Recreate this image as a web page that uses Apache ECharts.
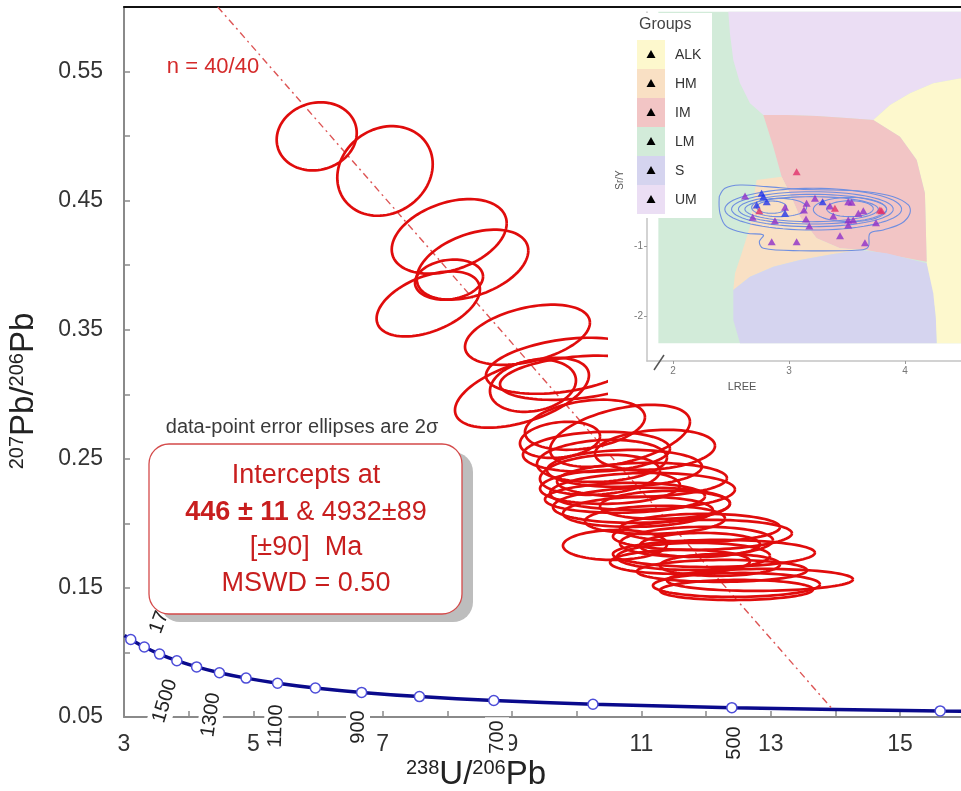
<!DOCTYPE html>
<html>
<head>
<meta charset="utf-8">
<script src="https://cdn.jsdelivr.net/npm/echarts@6/dist/echarts.min.js"></script>
<style>
  html, body { margin: 0; padding: 0; background: #ffffff; }
  #chart { width: 961px; height: 791px; }
</style>
</head>
<body>
<div id="chart"></div>
<script>
// ---------- Tera-Wasserburg diagram: 238U/206Pb vs 207Pb/206Pb ----------

// Concordia curve (age in Ma) and its coordinates
const concordiaAge = [1850, 1800, 1700, 1600, 1500, 1400, 1300, 1200, 1100, 1000, 900, 800, 700, 600, 500, 400, 380];
const concordiaX = [3.0084, 3.1046, 3.3140, 3.5497, 3.8170, 4.1227, 4.4756, 4.8875, 5.3746, 5.9593, 6.6743, 7.5684, 8.7182, 10.2518, 12.3993, 15.6211, 16.469];
const concordiaY = [0.11311, 0.11004, 0.10419, 0.09872, 0.09360, 0.08881, 0.08432, 0.08012, 0.07619, 0.07250, 0.06904, 0.06580, 0.06276, 0.05990, 0.05722, 0.05470, 0.05422];

// Discordia regression line, upper end to lower intercept
const discordiaX = [4.45, 13.96];
const discordiaY = [0.600, 0.0558];

// 2-sigma error ellipses: centre, half-widths and error correlation
const ellX   = [5.980, 7.036, 8.029, 8.389, 8.026, 7.705, 9.239, 9.788, 9.324, 9.154,
                9.974, 10.670, 10.306, 10.391, 10.739, 11.010, 11.018, 11.002, 10.948, 10.592,
                11.945, 11.853, 12.123, 11.806, 12.247, 12.471, 12.471, 10.515, 10.747, 11.211,
                11.907, 11.598, 12.835, 10.360, 11.211, 10.128, 9.742, 11.907, 12.216, 11.366];
const ellY   = [0.4998, 0.4730, 0.4223, 0.4004, 0.3888, 0.3700, 0.3461, 0.3221, 0.3066, 0.3012,
                0.3128, 0.2678, 0.2554, 0.2484, 0.2426, 0.2337, 0.2248, 0.2140, 0.2089, 0.1833,
                0.1911, 0.1857, 0.1767, 0.1744, 0.1632, 0.1523, 0.1484, 0.2283, 0.2198, 0.2027,
                0.1965, 0.1702, 0.1562, 0.2376, 0.2570, 0.2764, 0.2647, 0.1833, 0.1678, 0.2143];
const ellSX  = [0.619, 0.738, 0.889, 0.863, 0.526, 0.799, 0.966, 1.191, 0.665, 1.036,
                1.160, 1.082, 1.137, 1.005, 1.198, 1.314, 1.430, 1.368, 1.160, 0.804,
                1.384, 1.183, 1.562, 1.183, 1.314, 1.291, 1.183, 1.082, 1.237, 1.082,
                1.237, 1.082, 1.438, 0.928, 0.928, 0.928, 0.619, 0.928, 0.928, 1.005];
const ellSY  = [0.0264, 0.0347, 0.0289, 0.0271, 0.0155, 0.0252, 0.0233, 0.0217, 0.0202, 0.0271,
                0.0171, 0.0240, 0.0155, 0.0163, 0.0143, 0.0132, 0.0143, 0.0136, 0.0116, 0.0116,
                0.0116, 0.0116, 0.0105, 0.0105, 0.0085, 0.0093, 0.0078, 0.0132, 0.0116, 0.0109,
                0.0109, 0.0093, 0.0085, 0.0155, 0.0155, 0.0194, 0.0140, 0.0093, 0.0085, 0.0109];
const ellRho = [0.10, 0.15, 0.35, 0.40, 0.15, 0.45, 0.40, 0.35, 0.20, 0.50,
                0.30, 0.45, 0.15, 0.15, 0.10, 0.10, 0.10, 0.10, 0.10, 0.05,
                0.10, 0.10, 0.05, 0.05, 0.05, 0.05, 0.05, 0.10, 0.10, 0.10,
                0.05, 0.05, 0.05, 0.20, 0.20, 0.30, 0.20, 0.05, 0.05, 0.10];

// Axis ticks and labels
const xTickValues  = [3, 4, 5, 6, 7, 8, 9, 10, 11, 12, 13, 14, 15];
const xLabelValues = [3, 5, 7, 9, 11, 13, 15];
const yTickValues  = [0.05, 0.10, 0.15, 0.20, 0.25, 0.30, 0.35, 0.40, 0.45, 0.50, 0.55];
const yLabelValues = [0.05, 0.15, 0.25, 0.35, 0.45, 0.55];

// Concordia age labels
const ageLabels = ['1700', '1500', '1300', '1100', '900', '700', '500'];

// ---------- Inset: Sr/Y vs LREE classification ----------
const groupNames  = ['ALK', 'HM', 'IM', 'LM', 'S', 'UM'];
const groupColors = ['#fdf8cd', '#f9e0c4', '#f2c5c5', '#d2ebd9', '#d5d4ef', '#ebdef4'];

const fieldLM  = [[1.874, 2.348], [4.483, 2.348], [4.483, -2.391], [1.874, -2.391]];
const fieldUM  = [[2.477, 2.348], [4.483, 2.348], [4.483, 1.395], [4.244, 1.324], [4.043, 1.181], [3.871, 1.014],
                  [3.727, 0.800], [3.526, 0.824], [3.239, 0.857], [2.980, 0.871], [2.779, 0.871], [2.664, 1.038],
                  [2.578, 1.324], [2.520, 1.657], [2.491, 2.038]];
const fieldALK = [[3.727, 0.800], [3.871, 1.014], [4.043, 1.181], [4.244, 1.324], [4.483, 1.395], [4.483, -2.391],
                  [4.273, -2.391], [4.259, -1.914], [4.216, -1.581], [4.187, -1.248], [4.181, -0.819], [4.172, -0.248],
                  [4.101, 0.229], [3.957, 0.562]];
const fieldIM  = [[2.779, 0.871], [2.980, 0.871], [3.239, 0.857], [3.526, 0.824], [3.727, 0.800], [3.957, 0.562],
                  [4.101, 0.229], [4.172, -0.248], [4.181, -0.819], [4.187, -1.224], [3.957, -1.152], [3.670, -1.057],
                  [3.440, -1.033], [3.239, -0.891], [3.095, -0.581], [2.994, -0.200], [2.937, -0.010], [2.865, 0.419]];
const fieldHM  = [[2.721, -0.057], [2.937, -0.010], [2.994, -0.200], [3.095, -0.581], [3.239, -0.891], [3.440, -1.033],
                  [3.612, -1.057], [3.382, -1.114], [3.095, -1.200], [2.865, -1.295], [2.664, -1.438], [2.520, -1.629],
                  [2.535, -1.391], [2.592, -1.105], [2.664, -0.724], [2.693, -0.343]];
const fieldS   = [[2.520, -1.629], [2.664, -1.438], [2.865, -1.295], [3.095, -1.200], [3.382, -1.114], [3.612, -1.057],
                  [3.842, -1.105], [4.014, -1.176], [4.187, -1.248], [4.244, -1.676], [4.267, -2.057], [4.273, -2.391],
                  [2.578, -2.391], [2.520, -2.057]];

// Density contours: outer contour outline and inner rings
const contourL = [2.399, 2.448, 2.578, 2.808, 3.095, 3.382, 3.670, 3.899, 4.029, 4.043, 3.971, 3.813, 3.698, 3.684,
                  3.612, 3.095, 2.779, 2.744, 2.779, 2.635, 2.463, 2.405];
const contourS = [-0.295, -0.176, -0.129, -0.152, -0.190, -0.200, -0.224, -0.295, -0.414, -0.533, -0.676, -0.771,
                  -0.819, -1.010, -1.057, -1.067, -1.033, -0.938, -0.843, -0.819, -0.724, -0.533];
const ringL  = [3.209, 3.202, 3.203, 3.195, 2.915, 3.526, 3.526, 2.851];
const ringS  = [-0.474, -0.474, -0.474, -0.474, -0.450, -0.479, -0.467, -0.445];
const ringWL = [0.762, 0.697, 0.639, 0.575, 0.237, 0.316, 0.201, 0.129];
const ringHS = [0.298, 0.250, 0.212, 0.179, 0.131, 0.174, 0.114, 0.088];

// Zircon samples on the inset
const sampleL = [2.621, 2.764, 2.779, 2.808, 2.721, 2.744, 2.687, 2.879, 2.966, 2.966, 3.066, 3.129, 3.152, 3.147,
                 3.175, 3.224, 3.290, 3.353, 3.396, 3.382, 3.511, 3.540, 3.598, 3.641, 3.784, 3.799, 3.750, 3.511,
                 3.511, 3.554, 3.440, 3.655, 2.851, 3.066];
const sampleS = [-0.286, -0.248, -0.295, -0.367, -0.414, -0.495, -0.590, -0.638, -0.448, -0.533, 0.062, -0.486,
                 -0.390, -0.614, -0.714, -0.319, -0.367, -0.429, -0.462, -0.571, -0.367, -0.376, -0.533, -0.495,
                 -0.486, -0.495, -0.667, -0.629, -0.700, -0.629, -0.852, -0.952, -0.938, -0.938];
const sampleKind = ['p', 'b', 'b', 'b', 'b', 'r', 'p', 'p', 'p', 'b', 'r', 'p', 'p', 'p', 'p', 'p', 'b', 'p', 'r',
                    'p', 'p', 'p', 'p', 'p', 'r', 'r', 'p', 'p', 'p', 'p', 'p', 'p', 'p', 'p'];
const kindColor = { p: '#8e2fc8', b: '#2436e8', r: '#e0306a' };

// ---------- chart ----------
const FONT = '"Liberation Sans", Arial, sans-serif';
const RED = '#e00c0c';
const chart = echarts.init(document.getElementById('chart'), null, { renderer: 'canvas' });

const fields = [fieldLM, fieldUM, fieldALK, fieldIM, fieldHM, fieldS];
const fieldColors = [groupColors[3], groupColors[5], groupColors[0], groupColors[2], groupColors[1], groupColors[4]];

function legendElements() {
  const els = [
    { type: 'rect', shape: { x: 635, y: 13, width: 77, height: 205 }, style: { fill: '#ffffff' }, z: 70 },
    { type: 'text', x: 639, y: 25, style: { text: 'Groups', fontSize: 16, fontFamily: FONT, fill: '#444', verticalAlign: 'middle' }, z: 71 }
  ];
  groupNames.forEach((g, i) => {
    const top = 40 + i * 29;
    els.push({ type: 'rect', shape: { x: 637, y: top, width: 28, height: 29 }, style: { fill: groupColors[i] }, z: 71 });
    els.push({ type: 'polygon', shape: { points: [[651, top + 10], [646.5, top + 18], [655.5, top + 18]] }, style: { fill: '#000' }, z: 72 });
    els.push({ type: 'text', x: 675, y: top + 15, style: { text: g, fontSize: 14, fontFamily: FONT, fill: '#333', verticalAlign: 'middle' }, z: 72 });
  });
  return els;
}

const agePos = [[163, 612, 70], [165, 701, 73], [211, 715, 82], [276, 726, 88], [358, 727, 90], [497, 737, 90], [734, 743, 90]];

const option = {
  animation: false,
  backgroundColor: '#ffffff',
  grid: [
    { left: 124, top: 7, width: 837, height: 710 },
    { left: 647, top: 12, width: 314, height: 349 }
  ],
  xAxis: [
    {
      gridIndex: 0, type: 'value', min: 3, max: 15.943, position: 'bottom',
      axisLine: { onZero: false, lineStyle: { color: '#8a8a8a', width: 2 } },
      axisTick: { inside: true, length: 6, customValues: xTickValues, lineStyle: { color: '#8a8a8a', width: 1.5 } },
      axisLabel: { customValues: xLabelValues, fontSize: 23, color: '#333', fontFamily: FONT, margin: 16 },
      splitLine: { show: false }
    },
    {
      gridIndex: 0, type: 'value', min: 3, max: 15.943, position: 'top',
      axisLine: { onZero: false, lineStyle: { color: '#111', width: 2 } },
      axisTick: { show: false }, axisLabel: { show: false }, splitLine: { show: false }
    },
    {
      gridIndex: 1, type: 'value', min: 1.776, max: 4.483, z: 56, position: 'bottom',
      axisLine: { onZero: false, lineStyle: { color: '#c4c4c4', width: 1.5 } },
      axisTick: { customValues: [2, 3, 4], length: 3, lineStyle: { color: '#999' } },
      axisLabel: { customValues: [2, 3, 4], fontSize: 10, color: '#777', fontFamily: FONT, margin: 5 },
      splitLine: { show: false }
    }
  ],
  yAxis: [
    {
      gridIndex: 0, type: 'value', min: 0.05, max: 0.60,
      axisLine: { onZero: false, lineStyle: { color: '#8a8a8a', width: 2 } },
      axisTick: { inside: true, length: 6, customValues: yTickValues, lineStyle: { color: '#8a8a8a', width: 1.5 } },
      axisLabel: { customValues: yLabelValues, fontSize: 23, color: '#333', fontFamily: FONT, margin: 21,
                   formatter: v => v.toFixed(2) },
      splitLine: { show: false }
    },
    {
      gridIndex: 1, type: 'value', min: -2.643, max: 2.343, z: 56, position: 'left',
      axisLine: { onZero: false, lineStyle: { color: '#c4c4c4', width: 1.5 } },
      axisTick: { customValues: [-2, -1], length: 3, lineStyle: { color: '#999' } },
      axisLabel: { customValues: [-2, -1], fontSize: 10, color: '#777', fontFamily: FONT, margin: 4 },
      splitLine: { show: false }
    }
  ],
  series: [
    {
      // concordia
      type: 'line', xAxisIndex: 0, yAxisIndex: 0, z: 3, smooth: 0.3,
      data: concordiaX.map((x, i) => {
        const marked = concordiaAge[i] >= 400 && concordiaAge[i] <= 1800;
        return marked ? [x, concordiaY[i]] : { value: [x, concordiaY[i]], symbol: 'none' };
      }),
      symbol: 'circle', symbolSize: 10,
      itemStyle: { color: '#ffffff', borderColor: '#4c4cd8', borderWidth: 1.5 },
      lineStyle: { color: '#0a0a8c', width: 3.5 }
    },
    {
      // discordia
      type: 'line', xAxisIndex: 0, yAxisIndex: 0, z: 4, symbol: 'none',
      data: discordiaX.map((x, i) => [x, discordiaY[i]]),
      lineStyle: { color: '#dd5555', width: 1.4, type: [7, 4, 2, 4] }
    },
    {
      // error ellipses
      type: 'custom', xAxisIndex: 0, yAxisIndex: 0, z: 5,
      data: ellX.map((x, i) => [x, ellY[i], ellSX[i], ellSY[i], ellRho[i]]),
      encode: { x: 0, y: 1 },
      renderItem: (params, api) => {
        const cx = api.value(0), cy = api.value(1), sx = api.value(2), sy = api.value(3), r = api.value(4);
        const k = Math.sqrt(1 - r * r);
        const pts = [];
        for (let j = 0; j <= 90; j++) {
          const t = j / 90 * Math.PI * 2;
          pts.push(api.coord([cx + sx * Math.cos(t), cy + sy * (r * Math.cos(t) + k * Math.sin(t))]));
        }
        return { type: 'polyline', shape: { points: pts }, style: { fill: 'none', stroke: RED, lineWidth: 2.7 } };
      }
    },
    {
      // inset classification fields
      type: 'custom', xAxisIndex: 2, yAxisIndex: 1, z: 55,
      data: fields.map((f, i) => [f[0][0], f[0][1], i]),
      renderItem: (params, api) => {
        const idx = api.value(2);
        return {
          type: 'polygon',
          shape: { points: fields[idx].map(p => api.coord(p)) },
          style: { fill: fieldColors[idx], stroke: null }
        };
      }
    },
    {
      // inset density contours
      type: 'custom', xAxisIndex: 2, yAxisIndex: 1, z: 57,
      data: [[contourL[0], contourS[0], -1]].concat(ringL.map((l, i) => [l, ringS[i], i])),
      renderItem: (params, api) => {
        const idx = api.value(2);
        let pts = [];
        if (idx < 0) {
          pts = contourL.map((l, i) => api.coord([l, contourS[i]]));
          pts.push(pts[0]);
        } else {
          for (let j = 0; j <= 72; j++) {
            const t = j / 72 * Math.PI * 2;
            pts.push(api.coord([ringL[idx] + ringWL[idx] * Math.cos(t), ringS[idx] + ringHS[idx] * Math.sin(t)]));
          }
        }
        return { type: 'polyline', shape: { points: pts, smooth: idx < 0 ? 0.35 : 0 }, style: { fill: 'none', stroke: '#6f8ee0', lineWidth: 1.1 } };
      }
    },
    {
      // inset samples
      type: 'scatter', xAxisIndex: 2, yAxisIndex: 1, z: 58,
      symbol: 'triangle', symbolSize: [8, 7],
      data: sampleL.map((l, i) => ({ value: [l, sampleS[i]], itemStyle: { color: kindColor[sampleKind[i]] } }))
    }
  ],
  graphic: [
    // white panel behind the inset
    { type: 'rect', shape: { x: 608, y: 9, width: 353, height: 389 }, style: { fill: '#ffffff' }, z: 50 },
    { type: 'line', shape: { x1: 654, y1: 370, x2: 664, y2: 355 }, style: { stroke: '#555', lineWidth: 1.5 }, z: 60 },
    { type: 'text', x: 620, y: 180, rotation: Math.PI / 2,
      style: { text: 'Sr/Y', fontSize: 10, fontFamily: FONT, fill: '#555', align: 'center', verticalAlign: 'middle' }, z: 60 },
    { type: 'text', x: 742, y: 387,
      style: { text: 'LREE', fontSize: 11, fontFamily: FONT, fill: '#555', align: 'center', verticalAlign: 'middle' }, z: 60 },
    ...legendElements(),

    // annotations
    { type: 'text', x: 213, y: 67,
      style: { text: 'n = 40/40', fontSize: 22, fontFamily: FONT, fill: '#d42a2a', align: 'center', verticalAlign: 'middle' }, z: 6 },
    { type: 'text', x: 302, y: 427,
      style: { text: 'data-point error ellipses are 2σ', fontSize: 20, fontFamily: FONT, fill: '#3a3a3a', align: 'center', verticalAlign: 'middle' }, z: 6 },

    // concordia age labels
    ...ageLabels.map((t, i) => ({
      type: 'text', x: agePos[i][0], y: agePos[i][1], rotation: agePos[i][2] * Math.PI / 180,
      style: { text: t, fontSize: 20, fontFamily: FONT, fill: '#222', align: 'center', verticalAlign: 'middle',
               backgroundColor: '#ffffff', padding: [2, 3] },
      z: 40
    })),

    // result box
    { type: 'rect', shape: { x: 160, y: 452, width: 313, height: 170, r: 20 }, style: { fill: '#bdbdbd' }, z: 79 },
    { type: 'rect', shape: { x: 149, y: 444, width: 313, height: 170, r: 20 },
      style: { fill: '#ffffff', stroke: '#d44a4a', lineWidth: 1.3 }, z: 80 },
    { type: 'text', x: 306, y: 476,
      style: { text: 'Intercepts at', fontSize: 27, fontFamily: FONT, fill: '#c81e1e', align: 'center', verticalAlign: 'middle' }, z: 81 },
    { type: 'text', x: 306, y: 513,
      style: { text: '{b|446 ± 11} & 4932±89', fontSize: 27, fontFamily: FONT, fill: '#c81e1e', align: 'center', verticalAlign: 'middle',
               rich: { b: { fontSize: 27, fontWeight: 'bold', fontFamily: FONT, fill: '#c81e1e' } } }, z: 81 },
    { type: 'text', x: 306, y: 548,
      style: { text: '[±90]  Ma', fontSize: 27, fontFamily: FONT, fill: '#c81e1e', align: 'center', verticalAlign: 'middle' }, z: 81 },
    { type: 'text', x: 306, y: 584,
      style: { text: 'MSWD = 0.50', fontSize: 27, fontFamily: FONT, fill: '#c81e1e', align: 'center', verticalAlign: 'middle' }, z: 81 },

    // axis titles
    { type: 'text', x: 476, y: 775,
      style: { text: '{s|238}{b|U/}{s|206}{b|Pb}', align: 'center', verticalAlign: 'middle',
               rich: { s: { fontSize: 20, fontFamily: FONT, fill: '#222', verticalAlign: 'top' },
                       b: { fontSize: 33, fontFamily: FONT, fill: '#222' } } }, z: 10 },
    { type: 'text', x: 24, y: 391, rotation: Math.PI / 2,
      style: { text: '{s|207}{b|Pb/}{s|206}{b|Pb}', align: 'center', verticalAlign: 'middle',
               rich: { s: { fontSize: 20, fontFamily: FONT, fill: '#222', verticalAlign: 'top' },
                       b: { fontSize: 33, fontFamily: FONT, fill: '#222' } } }, z: 10 }
  ]
};

chart.setOption(option);
</script>
</body>
</html>
